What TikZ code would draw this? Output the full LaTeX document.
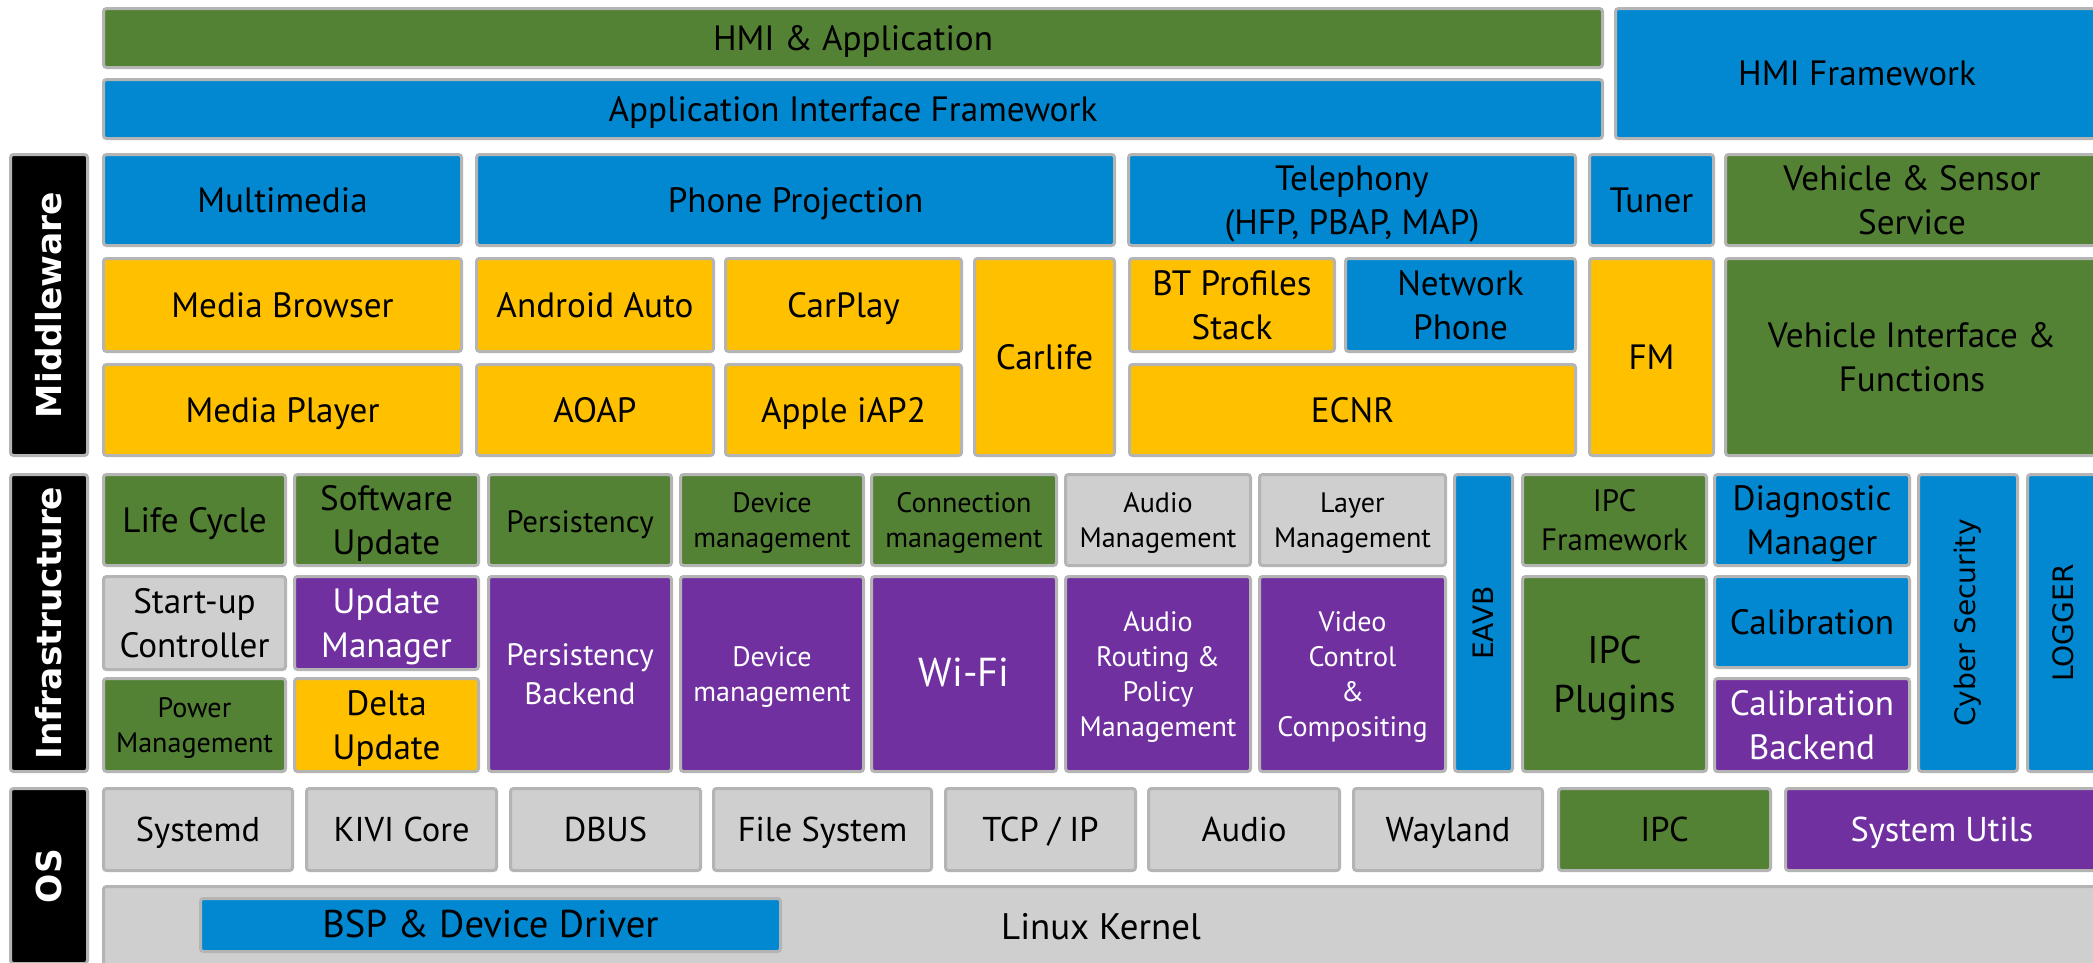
\documentclass[tikz,border=0pt]{standalone}
\usepackage{fontspec}
\setmainfont{PT Sans}
\newfontfamily\vfont{DejaVu Sans}

\definecolor{hmigreen}{HTML}{548235}
\definecolor{hmiblue}{HTML}{0288D1}
\definecolor{hmiyellow}{HTML}{FFC000}
\definecolor{hmipurple}{HTML}{7030A0}
\definecolor{hmigray}{HTML}{CFCFCF}
\definecolor{hmiedge}{HTML}{B4B4B4}

\begin{document}
\begin{tikzpicture}[x=0.1mm,y=-0.1mm,
  block/.style={draw=hmiedge, line width=0.3mm, inner sep=0pt, rounded corners=0.3mm,
    align=center, text depth=0pt, font=\fontsize{10}{12.4}\selectfont},
  greenbox/.style={block, fill=hmigreen},
  bluebox/.style={block, fill=hmiblue},
  yellowbox/.style={block, fill=hmiyellow},
  purplebox/.style={block, fill=hmipurple, text=white},
  graybox/.style={block, fill=hmigray},
  blackbox/.style={block, fill=black, text=white, rotate=90, text depth={},
    font=\vfont\bfseries\fontsize{9.8}{12}\selectfont},
  wh/.style 2 args={minimum width=#1mm, minimum height=#2mm},
  oneline/.style={text height=0.7em, text depth=0pt},
  smalltxt/.style={font=\fontsize{8}{10}\selectfont},
  midtxt/.style={font=\fontsize{8.8}{11.1}\selectfont},
  bigtxt/.style={font=\fontsize{11}{14}\selectfont},
  ostxt/.style={font=\fontsize{9.8}{12}\selectfont},
  sidetxt/.style={rotate=90, text depth={}, font=\vfont\fontsize{8}{10}\selectfont}]

\useasboundingbox[fill=white] (0,0) rectangle (2093,962);

% application layer
  \node[greenbox, oneline, wh={149.9}{5.9}] (hmiapp) at (853,38) {HMI \& Application};
  \node[bluebox, oneline, wh={149.9}{5.9}] (aif) at (853,109) {Application Interface Framework};
  \node[bluebox, oneline, wh={48.3}{13.0}] (hmifw) at (1857,73.5) {HMI Framework};

% middleware
  \node[blackbox, wh={30.1}{7.7}] (mw) at (49,305) {Middleware};
  \node[bluebox, oneline, wh={35.8}{9.1}] (multimedia) at (282.5,200) {Multimedia};
  \node[bluebox, oneline, wh={63.8}{9.1}] (projection) at (795.5,200) {Phone Projection};
  \node[bluebox, wh={44.7}{9.1}] (telephony) at (1352,200) {Telephony\\(HFP, PBAP, MAP)};
  \node[bluebox, oneline, wh={12.4}{9.1}] (tuner) at (1651.5,200) {Tuner};
  \node[greenbox, wh={37.3}{9.1}] (sensor) at (1912,200) {Vehicle \& Sensor\\Service};
  \node[yellowbox, oneline, wh={35.8}{9.3}] (browser) at (282.5,305) {Media Browser};
  \node[yellowbox, oneline, wh={23.7}{9.3}] (aauto) at (595,305) {Android Auto};
  \node[yellowbox, oneline, wh={23.6}{9.3}] (carplay) at (843.5,305) {CarPlay};
  \node[yellowbox, oneline, wh={14.0}{19.7}] (carlife) at (1044.5,357) {Carlife};
  \node[yellowbox, wh={20.5}{9.3}] (btstack) at (1232,305) {BT Profiles\\Stack};
  \node[bluebox, wh={23.0}{9.3}] (netphone) at (1460.5,305) {Network\\Phone};
  \node[yellowbox, oneline, wh={12.4}{19.7}] (fm) at (1651.5,357) {FM};
  \node[greenbox, wh={37.3}{19.7}] (vif) at (1912,357) {Vehicle Interface \&\\Functions};
  \node[yellowbox, oneline, wh={35.8}{9.1}] (player) at (282.5,410) {Media Player};
  \node[yellowbox, oneline, wh={23.7}{9.1}] (aoap) at (595,410) {AOAP};
  \node[yellowbox, oneline, wh={23.6}{9.1}] (iap) at (843.5,410) {Apple iAP2};
  \node[yellowbox, oneline, wh={44.6}{9.1}] (ecnr) at (1352.5,410) {ECNR};

% infrastructure
  \node[blackbox, wh={29.7}{7.7}] (infra) at (49,623) {Infrastructure};
  \node[greenbox, oneline, wh={18.2}{9.1}] (lifecycle) at (194.5,520) {Life Cycle};
  \node[greenbox, wh={18.4}{9.1}] (swupdate) at (386.5,520) {Software\\Update};
  \node[greenbox, midtxt, oneline, wh={18.3}{9.1}] (persist) at (580,520) {Persistency};
  \node[greenbox, smalltxt, wh={18.3}{9.1}] (devmgmt) at (772,520) {Device\\management};
  \node[greenbox, smalltxt, wh={18.5}{9.1}] (connmgmt) at (964,520) {Connection\\management};
  \node[graybox, smalltxt, wh={18.5}{9.1}] (audiomgmt) at (1158,520) {Audio\\Management};
  \node[graybox, smalltxt, wh={18.6}{9.1}] (layermgmt) at (1352.5,520) {Layer\\Management};
  \node[bluebox, sidetxt, wh={29.7}{5.8}] (eavb) at (1483.5,623) {EAVB};
  \node[greenbox, midtxt, wh={18.4}{9.1}] (ipcfw) at (1614.5,520) {IPC\\Framework};
  \node[bluebox, wh={19.5}{9.1}] (diag) at (1812,520) {Diagnostic\\Manager};
  \node[bluebox, sidetxt, wh={29.7}{9.9}] (cyber) at (1968,623) {Cyber Security};
  \node[bluebox, sidetxt, wh={29.7}{7.1}] (logger) at (2063,623) {LOGGER};
  \node[graybox, wh={18.2}{9.3}] (startup) at (194.5,623) {Start-up\\Controller};
  \node[purplebox, wh={18.4}{9.3}] (updmgr) at (386.5,623) {Update\\Manager};
  \node[purplebox, midtxt, wh={18.3}{19.5}] (persistbe) at (580,674) {Persistency\\Backend};
  \node[purplebox, smalltxt, wh={18.3}{19.5}] (devmgmtbe) at (772,674) {Device\\management};
  \node[purplebox, oneline, font=\fontsize{11.5}{14}\selectfont, wh={18.5}{19.5}] (wifi) at (964,674) {Wi-Fi};
  \node[purplebox, smalltxt, wh={18.5}{19.5}] (routing) at (1158,674) {Audio\\Routing \&\\Policy\\Management};
  \node[purplebox, smalltxt, wh={18.6}{19.5}] (video) at (1352.5,674) {Video\\Control\\\&\\Compositing};
  \node[greenbox, bigtxt, wh={18.4}{19.5}] (ipcplug) at (1614.5,674) {IPC\\Plugins};
  \node[bluebox, oneline, wh={19.5}{9.1}] (calib) at (1812,622) {Calibration};
  \node[greenbox, smalltxt, wh={18.2}{9.3}] (power) at (194.5,725) {Power\\Management};
  \node[yellowbox, wh={18.4}{9.3}] (delta) at (386.5,725) {Delta\\Update};
  \node[purplebox, wh={19.5}{9.3}] (calibbe) at (1812,725) {Calibration\\Backend};

% os
  \node[blackbox, wh={17.5}{7.7}] (os) at (49,876) {OS};
  \node[graybox, ostxt, oneline, wh={18.9}{8.2}] (systemd) at (198,829.5) {Systemd};
  \node[graybox, ostxt, oneline, wh={19.0}{8.2}] (kivi) at (401.5,829.5) {KIVI Core};
  \node[graybox, ostxt, oneline, wh={19.0}{8.2}] (dbus) at (605.5,829.5) {DBUS};
  \node[graybox, ostxt, oneline, wh={21.8}{8.2}] (fs) at (822.5,829.5) {File System};
  \node[graybox, ostxt, oneline, wh={19.0}{8.2}] (tcpip) at (1040.5,829.5) {TCP / IP};
  \node[graybox, ostxt, oneline, wh={19.1}{8.2}] (audio) at (1244,829.5) {Audio};
  \node[graybox, ostxt, oneline, wh={18.9}{8.2}] (wayland) at (1448,829.5) {Wayland};
  \node[greenbox, ostxt, oneline, wh={21.2}{8.2}] (ipc) at (1664.5,829.5) {IPC};
  \node[purplebox, ostxt, oneline, wh={31.3}{8.2}] (sysutils) at (1942,829.5) {System Utils};
  \node[graybox, oneline, font=\fontsize{10.5}{13}\selectfont, wh={199.5}{8.2}] (kernel) at (1101,927.5) {Linux Kernel};
  \node[bluebox, oneline, font=\fontsize{11}{13}\selectfont, wh={58.0}{5.3}] (bsp) at (490.5,925) {BSP \& Device Driver};

\end{tikzpicture}
\end{document}
